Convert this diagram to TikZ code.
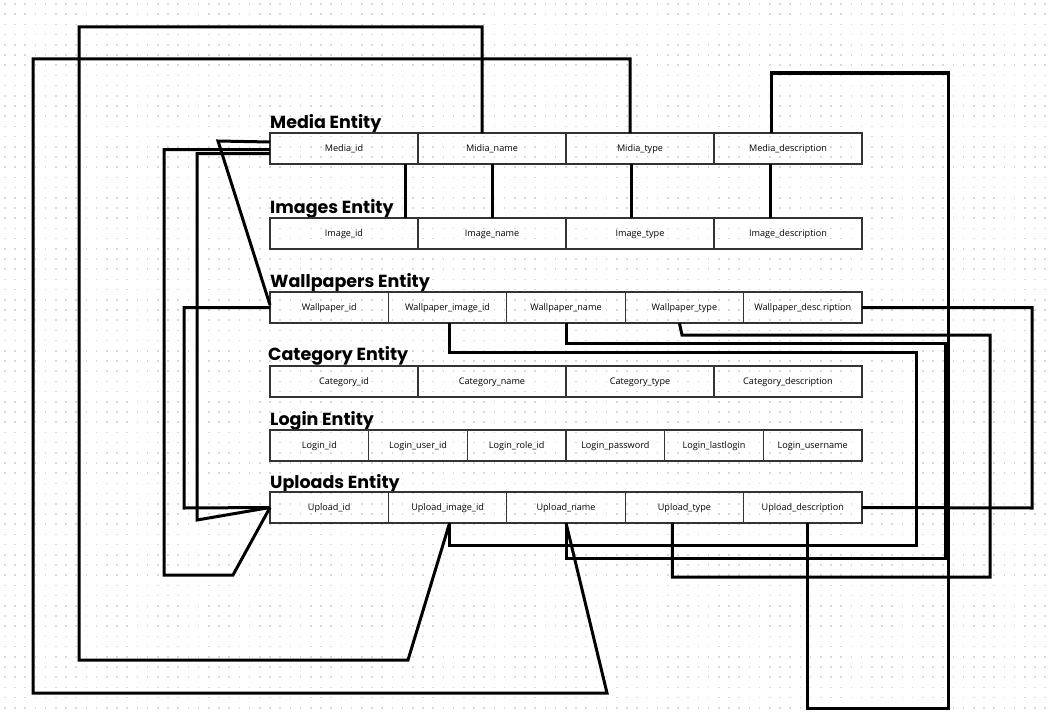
\documentclass[tikz,border=0pt]{standalone}
\usepackage{fontspec}
\setmainfont{Open Sans}
\newfontfamily\titlefont{Poppins}
\begin{document}
\begin{tikzpicture}[x=1pt,y=-1pt,
 cell/.style={draw=black!80, line width=1.3pt, minimum height=31pt, inner sep=0pt, outer sep=0pt, anchor=north west, font=\fontsize{9.1}{11}\selectfont, text=black, text depth=0.6pt},
 etitle/.style={anchor=base west, inner sep=0pt, font=\titlefont\bfseries\fontsize{17.5}{20}\selectfont},
 conn/.style={line width=3pt, line join=miter, black}]
\useasboundingbox (0,0) rectangle (1049,717);
% dotted background grid
\foreach \j in {0,...,70}
  \draw[black!15, line width=1.6pt, dash pattern=on 1.6pt off 8.6pt] (4,{4+10.2*\j}) -- (1049,{4+10.2*\j});

% Media Entity
\node[etitle] (tm) at (270,128) {Media Entity};
\node[cell, minimum width=148pt] (m1) at (270,133) {Media\_id};
\node[cell, minimum width=148pt] (m2) at (418,133) {Midia\_name};
\node[cell, minimum width=148pt] (m3) at (566,133) {Midia\_type};
\node[cell, minimum width=148pt] (m4) at (714,133) {Media\_description};

% Images Entity
\node[etitle] (ti) at (270,213) {Images Entity};
\node[cell, minimum width=148pt] (i1) at (270,218) {Image\_id};
\node[cell, minimum width=148pt] (i2) at (418,218) {Image\_name};
\node[cell, minimum width=148pt] (i3) at (566,218) {Image\_type};
\node[cell, minimum width=148pt] (i4) at (714,218) {Image\_description};

% Wallpapers Entity
\node[etitle] (tw) at (270,287) {Wallpapers Entity};
\node[cell, minimum width=118.4pt] (w1) at (270,292) {Wallpaper\_id};
\node[cell, minimum width=118.4pt] (w2) at (388.4,292) {Wallpaper\_image\_id};
\node[cell, minimum width=118.4pt] (w3) at (506.8,292) {Wallpaper\_name};
\node[cell, minimum width=118.4pt] (w4) at (625.2,292) {Wallpaper\_type};
\node[cell, minimum width=118.4pt] (w5) at (743.6,292) {Wallpaper\_desc ription};

% Category Entity
\node[etitle] (tc) at (268,360) {Category Entity};
\node[cell, minimum width=148pt] (c1) at (270,366) {Category\_id};
\node[cell, minimum width=148pt] (c2) at (418,366) {Category\_name};
\node[cell, minimum width=148pt] (c3) at (566,366) {Category\_type};
\node[cell, minimum width=148pt] (c4) at (714,366) {Category\_description};

% Login Entity
\node[etitle] (tl) at (270,425) {Login Entity};
\node[cell, minimum width=98.67pt] (l1) at (270,430) {Login\_id};
\node[cell, minimum width=98.67pt] (l2) at (368.67,430) {Login\_user\_id};
\node[cell, minimum width=98.67pt] (l3) at (467.33,430) {Login\_role\_id};
\node[cell, minimum width=98.67pt] (l4) at (566,430) {Login\_password};
\node[cell, minimum width=98.67pt] (l5) at (664.67,430) {Login\_lastlogin};
\node[cell, minimum width=98.67pt] (l6) at (763.33,430) {Login\_username};

% Uploads Entity
\node[etitle] (tu) at (270,488) {Uploads Entity};
\node[cell, minimum width=118.4pt] (u1) at (270,492) {Upload\_id};
\node[cell, minimum width=118.4pt] (u2) at (388.4,492) {Upload\_image\_id};
\node[cell, minimum width=118.4pt] (u3) at (506.8,492) {Upload\_name};
\node[cell, minimum width=118.4pt] (u4) at (625.2,492) {Upload\_type};
\node[cell, minimum width=118.4pt] (u5) at (743.6,492) {Upload\_description};

% Media -> Images
\draw[conn] ([xshift=61pt]m1.south) -- ([xshift=61pt]i1.north);
\draw[conn] (m2.south) -- (i2.north);
\draw[conn] ([xshift=-9pt]m3.south) -- ([xshift=-9pt]i3.north);
\draw[conn] ([xshift=-18pt]m4.south) -- ([xshift=-18pt]i4.north);

% top loops
\draw[conn] ([xshift=-10pt]m2.north) |- (79,27) -- (79,660) -- (408,660) -- ([xshift=2pt]u2.south);
\draw[conn] ([xshift=-10pt]m3.north) |- (33,59) -- (33,693) -- (607,693) -- (u3.south);
\draw[conn] ([xshift=-17pt]m4.north) |- (948,73) -- (948,708) -| ([xshift=5pt]u5.south);

% left connectors
\draw[conn] ([yshift=6.5pt]m1.west) -- (218,141) -- ([yshift=2.5pt]w1.west);
\draw[conn] ([yshift=-1pt]m1.west) -| (164,575) -- (233,575) -- (u1.west);
\draw[conn] ([yshift=-5pt]m1.west) -| (197,520) -- (u1.west);
\draw[conn] (w1.west) -| (184,508) -- (u1.west);

% right connectors
\draw[conn] ([xshift=2pt]w2.south) |- (916,352) -- (916,545) -| ([xshift=2pt]u2.south);
\draw[conn] (w3.south) |- (945,343) -- (945,558) -| (u3.south);
\draw[conn] ([xshift=-5pt]w4.south) -- (682,335) -- (990,335) -- (990,577) -| ([xshift=-12pt]u4.south);
\draw[conn] (w5.east) -- (1032,307.5) -- (1032,508) -- (u5.east);
\end{tikzpicture}
\end{document}
